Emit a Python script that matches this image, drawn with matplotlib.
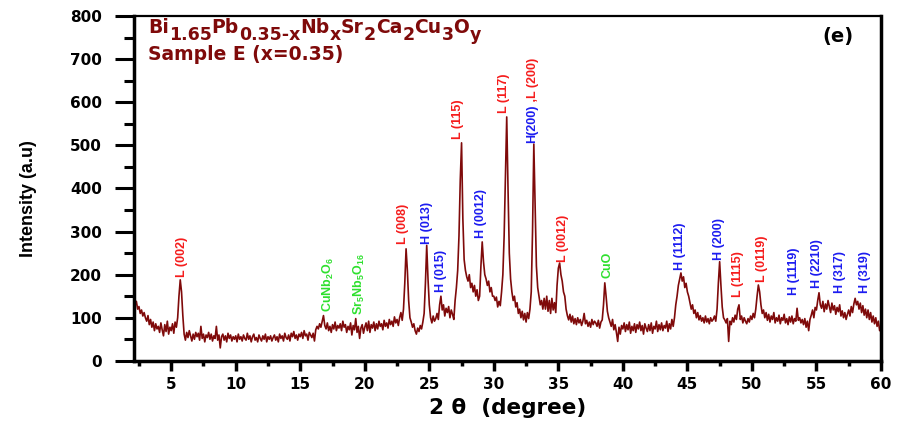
import matplotlib
matplotlib.use("Agg")
import matplotlib.pyplot as plt
import numpy as np

# XRD pattern, Sample E (x=0.35) at 0.1 deg steps from 2.0
two_theta_start = 2.0
two_theta_step = 0.1
intensity = [
    135, 142, 128, 138, 120, 126, 110, 118, 104, 112,   # 2
    100, 92, 105, 84, 96, 78, 90, 70, 86, 74,           # 3
    80, 66, 88, 72, 58, 84, 68, 92, 62, 78,             # 4
    70, 86, 64, 90, 78, 100, 150, 188, 160, 105,        # 5
    62, 48, 66, 54, 70, 58, 46, 62, 50, 66,             # 6
    56, 64, 48, 80, 52, 62, 44, 60, 54, 66,             # 7
    50, 62, 46, 58, 52, 80, 48, 60, 30, 56,             # 8
    62, 48, 58, 44, 64, 52, 60, 46, 56, 50,             # 9
    58, 44, 62, 50, 56, 46, 60, 52, 48, 64,             # 10
    50, 58, 44, 56, 62, 48, 54, 44, 60, 52,             # 11
    46, 58, 50, 62, 44, 56, 50, 58, 46, 54,             # 12
    60, 48, 56, 44, 62, 52, 58, 46, 64, 54,             # 13
    50, 60, 46, 64, 56, 68, 52, 60, 48, 62,             # 14
    56, 66, 52, 70, 58, 62, 48, 66, 60, 54,             # 15
    64, 46, 72, 80, 74, 86, 78, 92, 105, 82,            # 16
    74, 88, 70, 80, 66, 84, 74, 90, 70, 82,             # 17
    76, 86, 70, 92, 78, 84, 66, 80, 72, 88,             # 18
    60, 82, 72, 98, 66, 80, 52, 76, 84, 64,             # 19
    78, 88, 70, 92, 66, 84, 76, 90, 70, 86,             # 20
    74, 92, 80, 86, 72, 94, 80, 88, 76, 96,             # 21
    84, 92, 80, 102, 88, 96, 82, 100, 112, 94,          # 22
    120, 180, 260, 210, 140, 100, 90, 78, 86, 70,       # 23
    62, 76, 68, 82, 74, 90, 110, 180, 268, 190,         # 24
    130, 100, 88, 104, 92, 98, 110, 96, 130, 150,       # 25
    118, 130, 104, 122, 112, 126, 100, 118, 108, 96,    # 26
    140, 170, 210, 290, 420, 506, 330, 235, 210, 195,   # 27
    185, 200, 170, 180, 160, 175, 150, 165, 140, 150,   # 28
    220, 276, 230, 200, 190, 175, 185, 160, 170, 150,   # 29
    150, 140, 148, 125, 138, 128, 160, 200, 290, 430,   # 30
    566, 400, 250, 190, 160, 140, 150, 125, 135, 110,   # 31
    120, 100, 115, 95, 110, 90, 112, 98, 120, 160,      # 32
    300, 503, 360, 220, 170, 150, 130, 140, 120, 145,   # 33
    120, 150, 115, 140, 110, 145, 118, 135, 112, 175,   # 34
    215, 227, 200, 185, 160, 150, 120, 105, 95, 108,    # 35
    90, 104, 86, 98, 84, 100, 88, 96, 82, 92,           # 36
    110, 86, 94, 80, 90, 78, 96, 84, 92, 88,            # 37
    80, 94, 76, 90, 95, 130, 181, 150, 115, 100,        # 38
    90, 80, 96, 72, 84, 66, 45, 78, 62, 82,             # 39
    74, 88, 68, 84, 72, 90, 64, 80, 70, 86,             # 40
    66, 84, 74, 90, 70, 82, 62, 86, 76, 68,             # 41
    84, 70, 88, 64, 80, 74, 92, 68, 84, 72,             # 42
    88, 70, 82, 76, 92, 68, 86, 74, 96, 80,             # 43
    100, 130, 150, 175, 190, 204, 185, 195, 170, 180,   # 44
    160, 150, 135, 120, 130, 110, 118, 100, 112, 95,    # 45
    105, 92, 100, 88, 104, 90, 98, 86, 100, 92,         # 46
    96, 104, 92, 120, 180, 230, 175, 125, 100, 95,      # 47
    88, 98, 45, 92, 84, 100, 90, 106, 96, 120,          # 48
    130, 96, 104, 88, 100, 92, 86, 98, 90, 104,         # 49
    96, 110, 100, 120, 150, 176, 160, 130, 110, 118,    # 50
    100, 112, 94, 108, 90, 104, 96, 112, 88, 100,       # 51
    92, 106, 86, 100, 94, 108, 88, 98, 84, 102,         # 52
    90, 104, 86, 98, 92, 122, 94, 100, 88, 96,          # 53
    84, 98, 78, 92, 70, 96, 106, 118, 100, 124,         # 54
    118, 140, 158, 130, 122, 138, 114, 132, 120, 140,   # 55
    126, 112, 134, 118, 128, 108, 124, 114, 130, 104,   # 56
    116, 100, 112, 96, 108, 118, 104, 126, 112, 132,    # 57
    145, 130, 138, 120, 134, 112, 128, 106, 120, 100,   # 58
    118, 96, 112, 90, 104, 86, 100, 80, 92, 70,         # 59
    78,                                                 # 60
]

# peak labels: text, position (2theta), bottom of label (intensity), phase
peak_labels = ["L (002)", "CuNb$_2$O$_6$", "Sr$_5$Nb$_5$O$_{16}$", "L (008)", "H (013)",
               "H (015)", "L (115)", "H (0012)", "L (117)", "H(200)", "L (0012)", "CuO",
               "H (1112)", "H (200)", "L (1115)", "L (0119)", "H (1119)", "H (2210)",
               "H (317)", "H (319)"]
label_pos = [5.85, 17.2, 19.6, 23.0, 24.85, 25.9, 27.2, 29.0, 30.8, 33.0, 35.35, 38.8,
             44.45, 47.45, 48.9, 50.8, 53.25, 55.05, 56.8, 58.8]
label_base = [195, 114, 107, 271, 271, 160, 515, 285, 575, 505, 230, 192,
              211, 234, 149, 184, 153, 169, 158, 158]
label_phase = ["L", "X", "X", "L", "H", "H", "L", "H", "L", "H", "L", "X",
               "H", "H", "L", "L", "H", "H", "H", "H"]

# formula pieces: text, is subscript
formula = [("Bi", False), ("1.65", True), ("Pb", False), ("0.35-x", True), ("Nb", False),
           ("x", True), ("Sr", False), ("2", True), ("Ca", False), ("2", True),
           ("Cu", False), ("3", True), ("O", False), ("y", True)]

phase_colors = {"L": "#f51c1c", "H": "#1c1cf0", "X": "#2ee02e"}
dark_red = "#7f0a0a"
label_font = ['Liberation Sans', 'DejaVu Sans']

plt.rcParams['mathtext.fontset'] = 'custom'
plt.rcParams['mathtext.rm'] = 'Liberation Sans:bold'
plt.rcParams['mathtext.it'] = 'Liberation Sans:bold'

x = two_theta_start + two_theta_step * np.arange(len(intensity))

fig = plt.figure(figsize=(9.04, 4.25), dpi=100)
ax = fig.add_axes([0.148, 0.151, 0.8265, 0.811])
ax.plot(x, intensity, color=dark_red, lw=1.2)

ax.set_xlim(2.1, 60)
ax.set_ylim(0, 800)
ax.set_xticks(np.arange(5, 61, 5))
ax.set_xticks(np.arange(2.5, 60, 5), minor=True)
ax.set_yticks(np.arange(0, 801, 100))
ax.set_yticks(np.arange(50, 800, 100), minor=True)
ax.tick_params(axis='y', which='major', direction='out', length=14, width=2.2, pad=9)
ax.tick_params(axis='y', which='minor', direction='out', length=7, width=2.2)
ax.tick_params(axis='x', which='major', direction='out', length=7, width=2.5, pad=5)
ax.tick_params(axis='x', which='minor', direction='out', length=3.5, width=2.5)
for lab in ax.get_xticklabels() + ax.get_yticklabels():
    lab.set_fontfamily('DejaVu Sans')
    lab.set_fontweight('bold')
    lab.set_fontsize(11)

for side in ['left', 'bottom', 'right']:
    ax.spines[side].set_linewidth(2.5)
ax.spines['top'].set_linewidth(1.6)

ax.set_xlabel("2 θ  (degree)", fontsize=15.5, fontweight='bold', family='DejaVu Sans', labelpad=4)
ax.set_ylabel("Intensity (a.u)", fontsize=13, fontweight='bold', family=label_font)
ax.yaxis.set_label_coords(-0.13, 0.472)

for txt, px, py, ph in zip(peak_labels, label_pos, label_base, label_phase):
    t = ax.text(px, py, txt, rotation=90, ha='center', va='bottom', color=phase_colors[ph],
                fontsize=9, fontweight='bold', family=label_font)
    if txt == "H(200)":
        # red half of the combined label, stacked right after the blue one
        ax.annotate(" ,L (200)", xy=(0.5, 1), xycoords=t, rotation=90, ha='center',
                    va='bottom', color=phase_colors["L"], fontsize=9, fontweight='bold',
                    family=label_font)

# chemical formula, drawn piece by piece so the subscripts stay large
prev = None
for piece, sub in formula:
    size = 12.5 if sub else 13.5
    dy = -5 if sub else 0
    if prev is None:
        prev = ax.text(0.019, 0.951, piece, transform=ax.transAxes, ha='left',
                       va='baseline', color=dark_red, fontsize=size, fontweight='bold',
                       family='DejaVu Sans')
    else:
        prev = ax.annotate(piece, xy=(1, 0.951), xycoords=(prev, ax.transAxes),
                           xytext=(0, dy), textcoords='offset points', ha='left',
                           va='baseline', color=dark_red, fontsize=size, fontweight='bold',
                           family='DejaVu Sans')
ax.text(0.019, 0.872, "Sample E (x=0.35)", transform=ax.transAxes, ha='left', va='baseline',
        color=dark_red, fontsize=13.5, fontweight='bold', family='DejaVu Sans')
ax.text(0.942, 0.968, "(e)", transform=ax.transAxes, ha='center', va='top',
        fontsize=14, fontweight='bold', family='DejaVu Sans')

fig.savefig("out.png", dpi=100)
